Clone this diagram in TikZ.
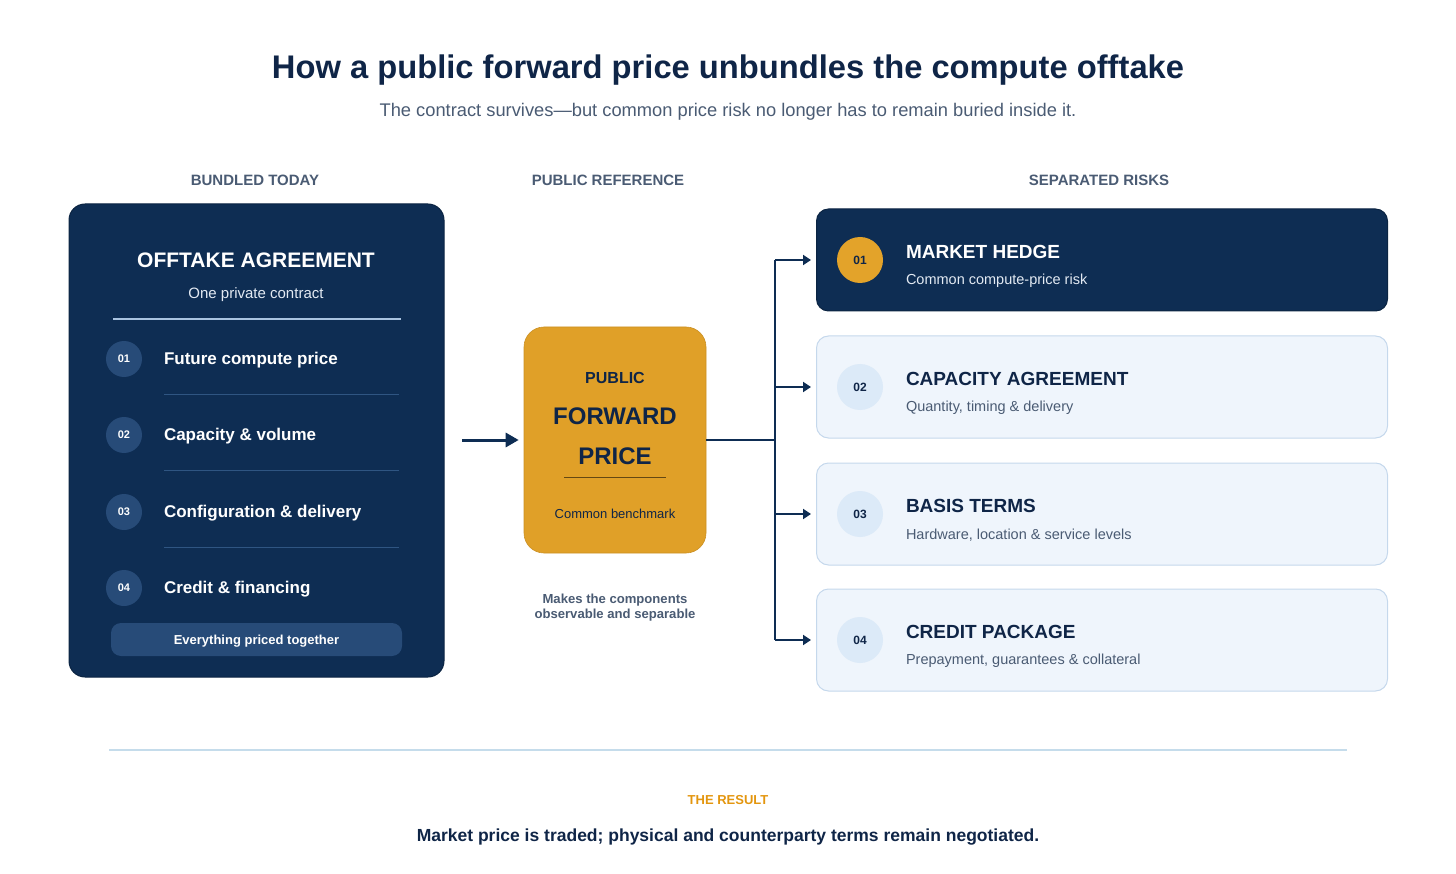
\documentclass[tikz,border=0pt]{standalone}
\usepackage{fontspec}
\setmainfont{Liberation Sans}
\usetikzlibrary{arrows.meta,positioning,calc}
\definecolor{navy}{HTML}{0E2D53}
\definecolor{navytxt}{HTML}{0F2547}
\definecolor{midnavy}{HTML}{274B78}
\definecolor{sepline}{HTML}{2F5582}
\definecolor{graytxt}{HTML}{4A5B73}
\definecolor{gold}{HTML}{E0A028}
\definecolor{goldcirc}{HTML}{E3A32A}
\definecolor{resgold}{HTML}{E3960F}
\definecolor{lightfill}{HTML}{EFF5FC}
\definecolor{lightborder}{HTML}{C5D8EC}
\definecolor{lightcirc}{HTML}{DCEAF8}
\definecolor{paleline}{HTML}{A9C3E0}
\definecolor{bottomline}{HTML}{C5DCEB}
\definecolor{subwhite}{HTML}{E3EAF3}
\newcommand{\fs}[1]{\fontsize{#1pt}{\dimexpr #1pt*12/10\relax}\selectfont}
\tikzset{
  txt/.style={inner sep=0pt, outer sep=0pt},
  leftnum/.style={circle, fill=midnavy, minimum size=36pt, inner sep=0pt, text=white, font=\fs{11}\bfseries},
  leftitem/.style={txt, anchor=west, text=white, font=\fs{17}\bfseries},
  rbox/.style={rounded corners=12pt, minimum width=571pt, minimum height=102pt, anchor=west, line width=1pt},
  rnum/.style={circle, minimum size=46pt, inner sep=0pt, font=\fs{12}\bfseries, text=navytxt},
  rtitle/.style={txt, anchor=west, font=\fs{19}\bfseries},
  rsub/.style={txt, anchor=west, font=\fs{14.5}},
  conn/.style={draw=navy, line width=2.4pt},
  arr/.style={conn, -{Triangle[length=8pt,width=10pt]}, shorten >=5pt},
  colhead/.style={txt, text=graytxt, font=\fs{15}\bfseries},
}
\begin{document}
\begin{tikzpicture}[x=1pt,y=-1pt]
\useasboundingbox (0,0) rectangle (1456,874);
% title
\node[txt, text=navytxt, font=\fs{32.7}\bfseries] (title) at (728,70.5) {How a public forward price unbundles the compute offtake};
\node[txt, text=graytxt, font=\fs{18.3}] (subtitle) at (728,111.5) {The contract survives—but common price risk no longer has to remain buried inside it.};
% column headers
\node[colhead] (h1) at (255,180) {BUNDLED TODAY};
\node[colhead] (h2) at (608,180) {PUBLIC REFERENCE};
\node[colhead] (h3) at (1099,180) {SEPARATED RISKS};
% left box
\node[draw=navy!80!black, fill=navy, rounded corners=16pt, minimum width=375pt, minimum height=473pt, line width=1pt] (left) at (256.5,440.5) {};
\node[txt, text=white, font=\fs{21}\bfseries] (offt) at (256,260.5) {OFFTAKE AGREEMENT};
\node[txt, text=subwhite, font=\fs{15}] (offsub) at (256,295) {One private contract};
\coordinate (d1) at (113,319);
\coordinate (d2) at (401,319);
\draw[paleline, line width=1.5pt] (d1) -- (d2);
\foreach \n/\t/\y in {01/Future compute price/358, 02/Capacity \& volume/434, 03/Configuration \& delivery/511, 04/Credit \& financing/587}{
  \node[leftnum] (ln\n) at (124,\y+1) {\n};
  \node[leftitem] (lt\n) at (164,\y+2) {\t};
}
\foreach \y in {394,470,547}{
  \coordinate (sa\y) at (164,\y);
  \coordinate (sb\y) at (399,\y);
  \draw[sepline, line width=1pt] (sa\y) -- (sb\y);
}
\node[fill=midnavy, rounded corners=10pt, minimum width=291pt, minimum height=33pt, inner sep=0pt] (pill) at (256.5,639.5) {};
\node[txt, text=white, font=\fs{13}\bfseries] (pilltxt) at (256.5,641.5) {Everything priced together};
% gold box
\node[fill=gold, draw=gold!90!black, line width=0.6pt, rounded corners=20pt, minimum width=182pt, minimum height=226pt] (gold) at (615,440) {};
\node[txt, text=navytxt, font=\fs{16}\bfseries] (pub) at (615,378) {PUBLIC};
\node[txt, text=navytxt, font=\fs{24}\bfseries] (fwd) at (615,416.5) {FORWARD};
\node[txt, text=navytxt, font=\fs{24}\bfseries] (price) at (615,456.5) {PRICE};
\coordinate (g1) at (564,477);
\coordinate (g2) at (666,477);
\draw[black!55!gold, line width=1pt] (g1) -- (g2);
\node[txt, text=navytxt, font=\fs{13}] (bench) at (615,514) {Common benchmark};
\node[txt, text=graytxt, font=\fs{13.1}\bfseries, align=center] (cap) at (615,607.5) {Makes the components\\[-1pt]observable and separable};
% arrow in
\coordinate (ain) at (462,440);
\draw[conn, line width=3pt, -{Triangle[length=13pt,width=14pt]}, shorten >=5pt] (ain) -- (gold.west);
% right boxes
\node[rbox, fill=navy, draw=navy!80!black] (r1) at (816,260) {};
\node[rbox, fill=lightfill, draw=lightborder] (r2) at (816,387) {};
\node[rbox, fill=lightfill, draw=lightborder] (r3) at (816,514) {};
\node[rbox, fill=lightfill, draw=lightborder] (r4) at (816,640) {};
\node[rnum, fill=goldcirc] (rn1) at (860,260) {01};
\node[rnum, fill=lightcirc] (rn2) at (860,387) {02};
\node[rnum, fill=lightcirc] (rn3) at (860,514) {03};
\node[rnum, fill=lightcirc] (rn4) at (860,640) {04};
\node[rtitle, text=white] (rt1) at (906,252) {MARKET HEDGE};
\node[rsub, text=subwhite] (rs1) at (906,281) {Common compute-price risk};
\node[rtitle, text=navytxt] (rt2) at (906,379) {CAPACITY AGREEMENT};
\node[rsub, text=graytxt] (rs2) at (906,408) {Quantity, timing \& delivery};
\node[rtitle, text=navytxt] (rt3) at (906,506) {BASIS TERMS};
\node[rsub, text=graytxt] (rs3) at (906,535) {Hardware, location \& service levels};
\node[rtitle, text=navytxt] (rt4) at (906,632) {CREDIT PACKAGE};
\node[rsub, text=graytxt] (rs4) at (906,661) {Prepayment, guarantees \& collateral};
% connectors
\coordinate (junc) at (775,440);
\coordinate (bt) at (775,260);
\coordinate (bb) at (775,640);
\draw[conn] (gold.east) -- (junc);
\draw[conn] (bt) -- (bb);
\coordinate (b2) at (775,387);
\coordinate (b3) at (775,514);
\draw[arr] (bt) -- (r1.west);
\draw[arr] (b2) -- (r2.west);
\draw[arr] (b3) -- (r3.west);
\draw[arr] (bb) -- (r4.west);
% bottom
\coordinate (bl1) at (109,750);
\coordinate (bl2) at (1347,750);
\draw[bottomline, line width=1.5pt] (bl1) -- (bl2);
\node[txt, text=resgold, font=\fs{13}\bfseries] (res) at (728,800) {THE RESULT};
\node[txt, text=navytxt, font=\fs{17.5}\bfseries] (concl) at (728,837) {Market price is traded; physical and counterparty terms remain negotiated.};
\end{tikzpicture}
\end{document}
